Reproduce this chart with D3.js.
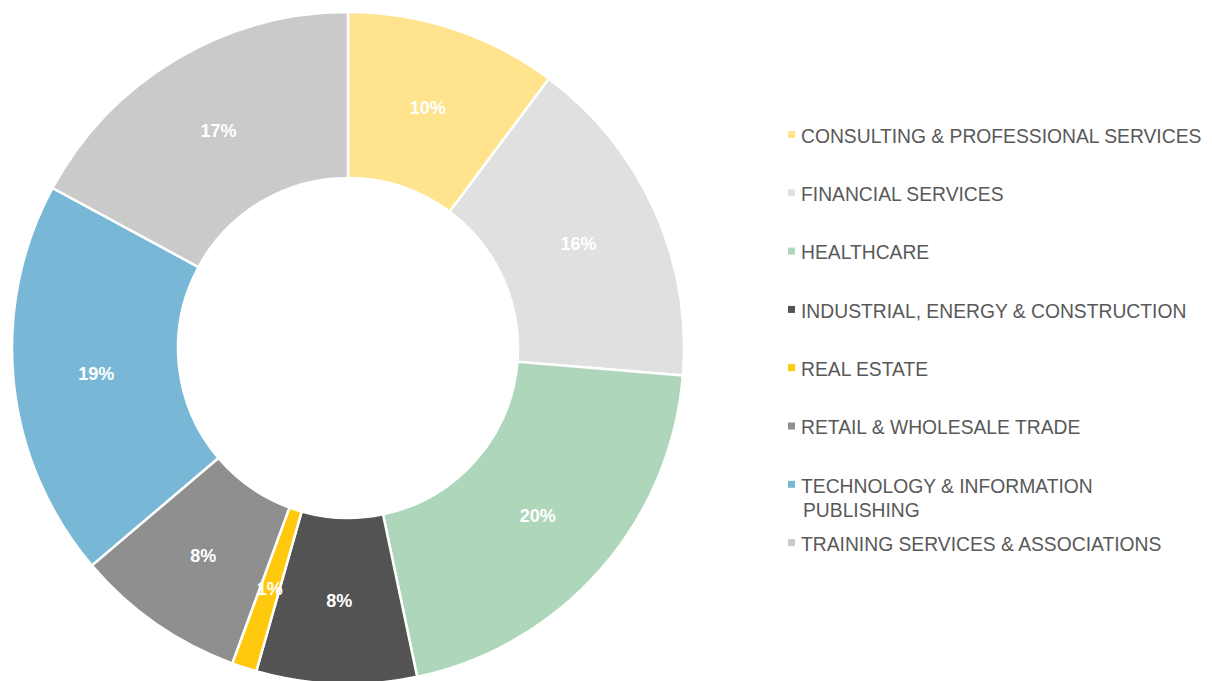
<!DOCTYPE html>
<html>
<head>
<meta charset="utf-8">
<script src="https://cdn.jsdelivr.net/npm/d3@7"></script>
<style>
  body { margin: 0; background: #fff; }
  svg { display: block; font-family: Arial, "Liberation Sans", sans-serif; }
</style>
</head>
<body>
<div id="root"></div>
<script>
"use strict";

// industry share (percent)
var categories = [
    "CONSULTING & PROFESSIONAL SERVICES",
    "FINANCIAL SERVICES",
    "HEALTHCARE",
    "INDUSTRIAL, ENERGY & CONSTRUCTION",
    "REAL ESTATE",
    "RETAIL & WHOLESALE TRADE",
    "TECHNOLOGY & INFORMATION PUBLISHING",
    "TRAINING SERVICES & ASSOCIATIONS"
];
var values = [10.2, 16.1, 20.4, 7.7, 1.2, 8.2, 19.1, 17.1];
var colors = ["#FFE38D", "#E0E0E0", "#AED6BA", "#535353", "#FFC90E", "#8F8F8F", "#78B7D6", "#CACACA"];
// legend lines (tech wraps onto two lines)
var legendLines = [
    ["CONSULTING & PROFESSIONAL SERVICES"],
    ["FINANCIAL SERVICES"],
    ["HEALTHCARE"],
    ["INDUSTRIAL, ENERGY & CONSTRUCTION"],
    ["REAL ESTATE"],
    ["RETAIL & WHOLESALE TRADE"],
    ["TECHNOLOGY & INFORMATION", "PUBLISHING"],
    ["TRAINING SERVICES & ASSOCIATIONS"]
];

var width = 1212, height = 681;

var svg = d3.select("#root").append("svg")
    .attr("width", width)
    .attr("height", height);

var cx = 348, cy = 348,
    outerR = 336, innerR = 170;

var total = d3.sum(values);
var data = categories.map(function (c, i) {
    return { name: c, value: values[i], color: colors[i] };
});

var pie = d3.pie()
    .sort(null)
    .value(function (d) { return d.value; });

var arc = d3.arc()
    .innerRadius(innerR)
    .outerRadius(outerR);

var g = svg.append("g").attr("transform", "translate(" + cx + "," + cy + ")");

var arcs = pie(data);

g.selectAll("path.slice")
    .data(arcs)
    .enter()
    .append("path")
    .classed("slice", true)
    .attr("d", arc)
    .attr("fill", function (d) { return d.data.color; })
    .attr("stroke", "#fff")
    .attr("stroke-width", 2.5)
    .attr("stroke-linejoin", "miter");

var pct = d3.format(".0%");

g.selectAll("text.lbl")
    .data(arcs)
    .enter()
    .append("text")
    .classed("lbl", true)
    .attr("transform", function (d) { return "translate(" + arc.centroid(d) + ")"; })
    .attr("text-anchor", "middle")
    .attr("dy", "0.35em")
    .style("font-size", "18px")
    .style("font-weight", "bold")
    .style("fill", "#fff")
    .text(function (d) { return pct(d.data.value / total); });

// legend
var legendX = 788, legendY0 = 136, legendStep = 58.3;

var leg = svg.append("g").classed("legend", true);

var items = leg.selectAll("g.item")
    .data(data)
    .enter()
    .append("g")
    .classed("item", true)
    .attr("transform", function (d, i) { return "translate(" + legendX + "," + (legendY0 + i * legendStep) + ")"; });

items.append("rect")
    .attr("x", 0)
    .attr("y", -5)
    .attr("width", 7)
    .attr("height", 7)
    .attr("fill", function (d) { return d.color; });

items.append("text")
    .style("font-size", "19.3px")
    .style("fill", "#595959")
    .each(function (d, i) {
        var t = d3.select(this);
        legendLines[i].forEach(function (line, j) {
            t.append("tspan")
                .attr("x", j === 0 ? 13 : 15)
                .attr("dy", j === 0 ? "0.35em" : "24px")
                .text(line);
        });
    });
</script>
</body>
</html>
